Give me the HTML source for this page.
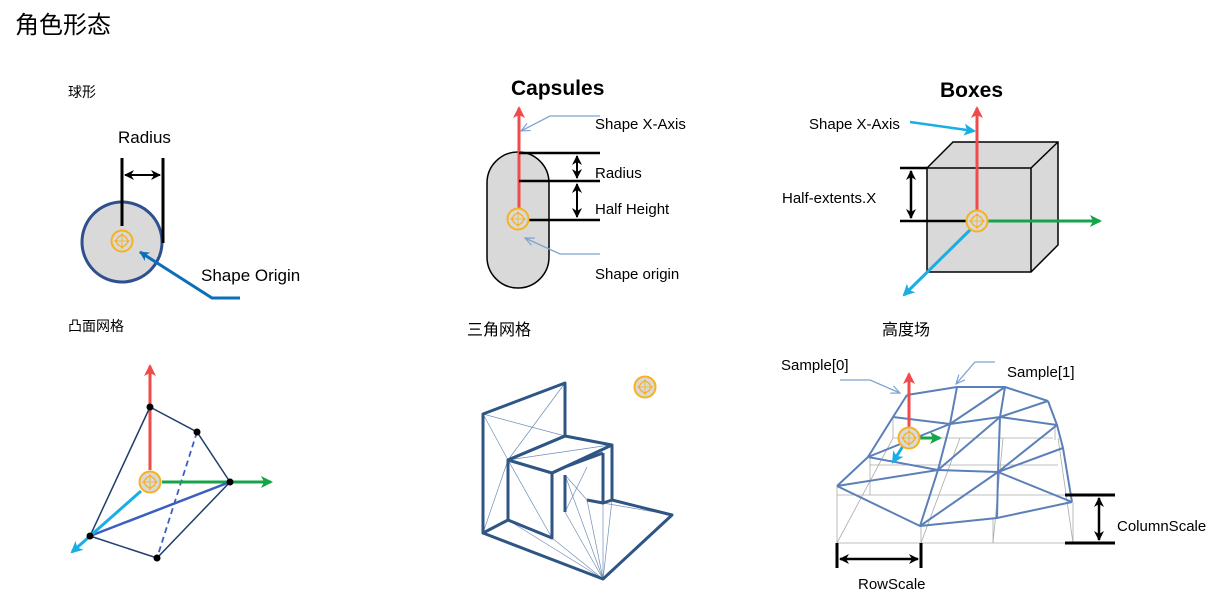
<!DOCTYPE html>
<html><head><meta charset="utf-8"><style>
body{margin:0;background:#fff;width:1216px;height:594px;overflow:hidden}
svg{display:block}
text{font-family:"Liberation Sans","Noto Sans CJK SC",sans-serif;fill:#000}
</style></head><body>
<svg width="1216" height="594" viewBox="0 0 1216 594" xmlns="http://www.w3.org/2000/svg">
<defs>
<g id="org">
<circle r="10.5" fill="#d9d9d9" stroke="#f5b120" stroke-width="2"/>
<circle r="5.5" fill="none" stroke="#f5b120" stroke-width="1"/>
<path d="M-8 0H8M0 -8V8M-7 0L0 -7L7 0L0 7Z" fill="none" stroke="#f5b120" stroke-width="0.8"/>
</g>
<marker id="ared" markerWidth="12" markerHeight="12" refX="10" refY="6" orient="auto" markerUnits="userSpaceOnUse"><path d="M0,0 L12,6 L0,12 L3,6Z" fill="#f04a4a"/></marker>
<marker id="agr" markerWidth="12" markerHeight="12" refX="10" refY="6" orient="auto" markerUnits="userSpaceOnUse"><path d="M0,0 L12,6 L0,12 L3,6Z" fill="#16a34a"/></marker>
<marker id="acy" markerWidth="12" markerHeight="12" refX="10" refY="6" orient="auto" markerUnits="userSpaceOnUse"><path d="M0,0 L12,6 L0,12 L3,6Z" fill="#1aaee5"/></marker>
<marker id="abk" markerWidth="10" markerHeight="10" refX="9" refY="5" orient="auto-start-reverse" markerUnits="userSpaceOnUse"><path d="M0,0 L10,5 L0,10 L3,5Z" fill="#000"/></marker>
<marker id="abl" markerWidth="10" markerHeight="10" refX="9" refY="5" orient="auto" markerUnits="userSpaceOnUse"><path d="M0,0 L10,5 L0,10 L3,5Z" fill="#0b6fb8"/></marker>
<marker id="alb" markerWidth="10" markerHeight="10" refX="9" refY="5" orient="auto" markerUnits="userSpaceOnUse"><path d="M0,1 L9,5 L0,9" fill="none" stroke="#7fa3d0" stroke-width="1.2"/></marker>
</defs>

<text x="15" y="33" font-size="24">角色形态</text>
<text x="68" y="97" font-size="14">球形</text>
<text x="68" y="331" font-size="14">凸面网格</text>
<text x="467" y="335" font-size="16">三角网格</text>
<text x="882" y="335" font-size="16">高度场</text>

<!-- Sphere -->
<circle cx="122" cy="242" r="40" fill="#d9d9d9" stroke="#2f4f8f" stroke-width="3"/>
<line x1="122" y1="158" x2="122" y2="226" stroke="#000" stroke-width="3"/>
<line x1="163" y1="158" x2="163" y2="243" stroke="#000" stroke-width="3"/>
<line x1="125" y1="175" x2="160" y2="175" stroke="#000" stroke-width="2" marker-start="url(#abk)" marker-end="url(#abk)"/>
<use href="#org" x="122" y="241"/>
<text x="118" y="143" font-size="17">Radius</text>
<text x="201" y="281" font-size="17">Shape Origin</text>
<polyline points="240,298 212,298 140,252" fill="none" stroke="#0b6fb8" stroke-width="3" marker-end="url(#abl)"/>

<!-- Capsule -->
<rect x="487" y="152" width="62" height="136" rx="31" fill="#d9d9d9" stroke="#000" stroke-width="1.5"/>
<line x1="519" y1="218" x2="519" y2="108" stroke="#f04a4a" stroke-width="3" marker-end="url(#ared)"/>
<line x1="519" y1="153" x2="600" y2="153" stroke="#000" stroke-width="2.5"/>
<line x1="519" y1="181" x2="600" y2="181" stroke="#000" stroke-width="2.5"/>
<line x1="528" y1="220" x2="600" y2="220" stroke="#000" stroke-width="2.5"/>
<line x1="577" y1="156" x2="577" y2="178" stroke="#000" stroke-width="2" marker-start="url(#abk)" marker-end="url(#abk)"/>
<line x1="577" y1="184" x2="577" y2="217" stroke="#000" stroke-width="2" marker-start="url(#abk)" marker-end="url(#abk)"/>
<use href="#org" x="518" y="219"/>
<text x="511" y="95" font-size="21" font-weight="bold">Capsules</text>
<text x="595" y="129" font-size="15">Shape X-Axis</text>
<text x="595" y="178" font-size="15">Radius</text>
<text x="595" y="214" font-size="15">Half Height</text>
<text x="595" y="279" font-size="15">Shape origin</text>
<polyline points="600,116 550,116 521,131" fill="none" stroke="#7fa3d0" stroke-width="1.3" marker-end="url(#alb)"/>
<polyline points="600,254 560,254 525,238" fill="none" stroke="#7fa3d0" stroke-width="1.3" marker-end="url(#alb)"/>

<!-- Box -->
<polygon points="927,168 953,142 1058,142 1058,245 1031,272 927,272" fill="#d9d9d9" stroke="#000" stroke-width="1.5"/>
<polyline points="927,168 1031,168 1058,142" fill="none" stroke="#000" stroke-width="1.5"/>
<line x1="1031" y1="168" x2="1031" y2="272" stroke="#000" stroke-width="1.5"/>
<line x1="977" y1="211" x2="977" y2="108" stroke="#f04a4a" stroke-width="3" marker-end="url(#ared)"/>
<line x1="988" y1="221" x2="1100" y2="221" stroke="#16a34a" stroke-width="3" marker-end="url(#agr)"/>
<line x1="970" y1="230" x2="904" y2="295" stroke="#1aaee5" stroke-width="3" marker-end="url(#acy)"/>
<line x1="900" y1="168" x2="927" y2="168" stroke="#000" stroke-width="2.5"/>
<line x1="900" y1="221" x2="966" y2="221" stroke="#000" stroke-width="2.5"/>
<line x1="911" y1="171" x2="911" y2="218" stroke="#000" stroke-width="2.5" marker-start="url(#abk)" marker-end="url(#abk)"/>
<use href="#org" x="977" y="221"/>
<line x1="910" y1="122" x2="974" y2="131" stroke="#1aaee5" stroke-width="2.5" marker-end="url(#acy)"/>
<text x="940" y="97" font-size="21" font-weight="bold">Boxes</text>
<text x="809" y="129" font-size="15">Shape X-Axis</text>
<text x="782" y="203" font-size="15">Half-extents.X</text>

<!-- Convex -->
<line x1="150" y1="470" x2="150" y2="366" stroke="#f04a4a" stroke-width="3" marker-end="url(#ared)"/>
<polyline points="150,407 197,432 230,482 157,558 90,536 150,407" stroke="#1f3d6e" stroke-width="1.5" fill="none"/>
<line x1="197" y1="432" x2="157" y2="558" stroke="#3b5fbf" stroke-width="1.8" stroke-dasharray="6,4"/>
<line x1="162" y1="482" x2="271" y2="482" stroke="#16a34a" stroke-width="3" marker-end="url(#agr)"/>
<line x1="90" y1="536" x2="230" y2="482" stroke="#3b5fbf" stroke-width="2.5"/>
<line x1="141" y1="491" x2="72" y2="552" stroke="#1aaee5" stroke-width="3" marker-end="url(#acy)"/>
<g fill="#000"><circle cx="150" cy="407" r="3.5"/><circle cx="197" cy="432" r="3.5"/><circle cx="230" cy="482" r="3.5"/><circle cx="90" cy="536" r="3.5"/><circle cx="157" cy="558" r="3.5"/></g>
<use href="#org" x="150" y="482"/>

<!-- Triangle mesh chair -->
<g stroke="#6f8fb8" stroke-width="0.7" fill="none">
<path d="M483,414 L508,460 M565,383 L508,460 M483,533 L508,460 M483,533 L508,520 M508,460 L552,538 M508,520 L603,579 M552,538 L603,579 M565,475 L603,579 M565,512 L603,579 M587,500 L603,579 M603,453 L603,579 M612,500 L603,579 M565,475 L587,500 M587,467 L565,512 M552,473 L612,445 M508,460 L610,445 M612,500 L672,515 M565,436 L483,414 M603,503 L672,515"/>
</g>
<g stroke="#2e5583" stroke-width="3" fill="none" stroke-linejoin="round">
<polygon points="483,414 565,383 565,436 508,460 508,520 483,533"/>
<polyline points="483,533 603,579 672,515 612,500"/>
<polygon points="508,460 565,436 612,445 552,473"/>
<polyline points="552,473 552,538 508,520"/>
<polyline points="612,445 612,500 603,503 603,453"/>
<polyline points="565,475 565,512 M587,467 587,500"/>
<polyline points="552,473 565,467 603,453"/>
<polyline points="587,500 603,503"/>
</g>
<use href="#org" x="645" y="387"/>

<!-- Heightfield gray grid -->
<g stroke="#aaa" stroke-width="0.8" fill="none">
<line x1="893" y1="438" x2="1053" y2="438"/>
<line x1="870" y1="465" x2="1058" y2="465"/>
<line x1="837" y1="495" x2="1072" y2="495"/>
<line x1="837" y1="543" x2="1073" y2="543"/>
<line x1="837" y1="486" x2="837" y2="543"/>
<line x1="870" y1="457" x2="870" y2="495"/>
<line x1="921" y1="526" x2="921" y2="543"/>
<line x1="993" y1="518" x2="993" y2="543"/>
<line x1="1073" y1="502" x2="1073" y2="543"/>
<line x1="893" y1="417" x2="893" y2="438"/>
<line x1="1055" y1="425" x2="1055" y2="440"/>
<line x1="837" y1="543" x2="893" y2="438"/>
<line x1="921" y1="543" x2="960" y2="438"/>
<line x1="993" y1="543" x2="1003" y2="438"/>
<line x1="1073" y1="543" x2="1058" y2="438"/>
</g>
<g stroke="#5b80b8" stroke-width="2" fill="none" stroke-linejoin="round">
<polyline points="907,395 957,387 1005,387 1048,401"/>
<polyline points="893,417 950,424 1000,417 1057,425"/>
<polyline points="868,457 938,470 998,472 1063,448"/>
<polyline points="837,486 920,526 997,518 1072,502"/>
<polyline points="907,395 893,417 868,457 837,486"/>
<polyline points="957,387 950,424 938,470 920,526"/>
<polyline points="1005,387 1000,417 998,472 997,518"/>
<polyline points="1048,401 1057,425 1063,448 1072,502"/>
<line x1="837" y1="486" x2="938" y2="470"/>
<line x1="868" y1="457" x2="950" y2="424"/>
<line x1="950" y1="424" x2="1005" y2="387"/>
<line x1="938" y1="470" x2="1000" y2="417"/>
<line x1="1000" y1="417" x2="1048" y2="401"/>
<line x1="998" y1="472" x2="1057" y2="425"/>
<line x1="920" y1="526" x2="998" y2="472"/>
<line x1="998" y1="472" x2="1072" y2="502"/>
</g>
<line x1="909" y1="427" x2="909" y2="374" stroke="#f04a4a" stroke-width="3" marker-end="url(#ared)"/>
<line x1="918" y1="438" x2="940" y2="438" stroke="#16a34a" stroke-width="3" marker-end="url(#agr)"/>
<line x1="903" y1="446" x2="893" y2="462" stroke="#1aaee5" stroke-width="3" marker-end="url(#acy)"/>
<use href="#org" x="909" y="438"/>
<polyline points="840,380 870,380 900,393" fill="none" stroke="#7fa3d0" stroke-width="1.3" marker-end="url(#alb)"/>
<polyline points="995,362 975,362 956,384" fill="none" stroke="#7fa3d0" stroke-width="1.3" marker-end="url(#alb)"/>
<text x="781" y="370" font-size="15">Sample[0]</text>
<text x="1007" y="377" font-size="15">Sample[1]</text>
<line x1="1065" y1="495" x2="1115" y2="495" stroke="#000" stroke-width="3"/>
<line x1="1065" y1="543" x2="1115" y2="543" stroke="#000" stroke-width="3"/>
<line x1="1099" y1="498" x2="1099" y2="540" stroke="#000" stroke-width="2.5" marker-start="url(#abk)" marker-end="url(#abk)"/>
<line x1="837" y1="543" x2="837" y2="568" stroke="#000" stroke-width="3"/>
<line x1="921" y1="543" x2="921" y2="568" stroke="#000" stroke-width="3"/>
<line x1="840" y1="559" x2="918" y2="559" stroke="#000" stroke-width="2.5" marker-start="url(#abk)" marker-end="url(#abk)"/>
<text x="1117" y="531" font-size="15">ColumnScale</text>
<text x="858" y="589" font-size="15">RowScale</text>
</svg>
</body></html>
